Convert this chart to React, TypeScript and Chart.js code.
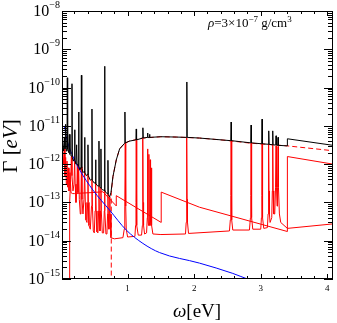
import React, { useEffect, useRef } from 'react';
import { Chart, registerables } from 'chart.js';

Chart.register(...registerables);

const X_MIN = 0.015;
const X_MAX = 4.085;
const Y_MIN = 1e-15;
const Y_MAX = 1e-8;

const xTickLabels = ['1', '2', '3', '4'];
const xTickValues = [1, 2, 3, 4];
const yTickExponents = [-15, -14, -13, -12, -11, -10, -9, -8];

const xTitleParts = ['ω', '[eV]'];
const yTitleParts = ['Γ [', 'eV', ']'];
const annotation = ['ρ', '=3×10', '−7', ' g/cm', '3'];

// total rate (black)
const blackPts: [number, number][] = [
  [0.02, 4.5e-12], [0.04, 2.2e-12], [0.05, 5e-12], [0.06, 2.5e-12], [0.07, 1.1e-11], [0.08, 2.2e-12],
  [0.09, 2.5e-12], [0.095, 1.8e-10], [0.1, 2.5e-12], [0.115, 2e-12], [0.125, 6e-12], [0.135, 1.8e-12],
  [0.16, 1.6e-12], [0.165, 1.26e-10], [0.17, 1.5e-12], [0.185, 1.2e-12], [0.2, 1.4e-12], [0.205, 7.9e-12],
  [0.21, 1.3e-12], [0.225, 1e-12], [0.235, 3.2e-12], [0.242, 1e-12], [0.26, 9e-13], [0.265, 2.3e-11],
  [0.27, 9e-13], [0.285, 7e-13], [0.3, 8.5e-13], [0.306, 2.1e-10], [0.312, 8e-13], [0.33, 6e-13],
  [0.35, 6.5e-13], [0.355, 5e-12], [0.36, 6e-13], [0.38, 5e-13], [0.4, 5.5e-13], [0.405, 3.2e-12],
  [0.41, 5e-13], [0.44, 3.8e-13], [0.46, 4e-13], [0.465, 2.75e-11], [0.47, 3.8e-13], [0.5, 3.2e-13],
  [0.515, 3.3e-13], [0.52, 1.3e-12], [0.525, 3.1e-13], [0.55, 2.7e-13], [0.565, 2.7e-13], [0.57, 4e-12],
  [0.575, 2.6e-13], [0.595, 2.4e-13], [0.6, 2.5e-12], [0.605, 2.3e-13], [0.63, 2.1e-13], [0.65, 2.1e-13],
  [0.655, 3.6e-10], [0.66, 2e-13], [0.69, 1.7e-13], [0.7, 1.7e-13], [0.705, 1.26e-12], [0.71, 1.6e-13],
  [0.73, 1.4e-13], [0.75, 1.8e-13], [0.78, 4.7e-13], [0.83, 1.29e-12], [0.88, 2.5e-12], [0.955, 3.5e-12],
  [0.96, 2.3e-11], [0.965, 3.6e-12], [1.03, 4e-12], [1.125, 4.3e-12], [1.13, 8.3e-12], [1.135, 4.3e-12],
  [1.225, 4.8e-12], [1.23, 8.9e-12], [1.235, 4.8e-12], [1.295, 5e-12], [1.3, 6.5e-12], [1.305, 5e-12],
  [1.325, 5e-12], [1.33, 6e-12], [1.335, 5e-12], [1.5, 5.2e-12], [1.73, 5.1e-12], [1.885, 5e-12],
  [1.89, 1.4e-10], [1.895, 5e-12], [2.08, 4.8e-12], [2.55, 4.1e-12], [2.555, 1.26e-11], [2.56, 4.1e-12],
  [2.85, 3.6e-12], [2.855, 1.05e-11], [2.86, 3.6e-12], [3.015, 3.4e-12], [3.02, 1.5e-11], [3.025, 3.4e-12],
  [3.115, 3.3e-12], [3.12, 7.4e-12], [3.125, 3.3e-12], [3.175, 3.2e-12], [3.18, 7.4e-12], [3.185, 3.2e-12],
  [3.225, 3.15e-12], [3.23, 5.5e-12], [3.235, 3.15e-12], [3.255, 3.1e-12], [3.26, 5e-12], [3.265, 3.1e-12],
  [3.395, 3e-12], [3.4, 4.6e-12], [4.085, 3.1e-12],
];

// resonant contribution (red, solid, with peaks)
const redPeakPts: [number, number][] = [
  [0.13, 1e-17], [0.13, 1e-13], [0.145, 4e-13], [0.156, 1.6e-12], [0.165, 5e-13], [0.18, 2e-13],
  [0.195, 3e-13], [0.205, 1.3e-12], [0.213, 3e-13], [0.225, 1e-13], [0.238, 2e-13], [0.245, 1e-12],
  [0.255, 1.8e-13], [0.265, 9e-13], [0.275, 1.2e-13], [0.29, 5e-14], [0.3, 1.5e-13], [0.306, 8.5e-13],
  [0.315, 1.2e-13], [0.33, 5e-14], [0.345, 1.2e-13], [0.355, 6.5e-13], [0.365, 1e-13], [0.375, 3.5e-14],
  [0.39, 3e-14], [0.4, 1e-13], [0.405, 5.5e-13], [0.41, 1e-13], [0.42, 2.5e-14], [0.44, 2e-14],
  [0.458, 8e-14], [0.465, 4e-13], [0.472, 8e-14], [0.485, 1.8e-14], [0.5, 1.6e-14], [0.512, 6e-14],
  [0.52, 3.3e-13], [0.528, 6e-14], [0.54, 1.7e-14], [0.555, 1.6e-14], [0.565, 6e-14], [0.57, 2.7e-13],
  [0.575, 6e-14], [0.585, 1.8e-14], [0.595, 6e-14], [0.6, 2.4e-13], [0.605, 6e-14], [0.62, 1.6e-14],
  [0.64, 1.6e-14], [0.65, 6e-14], [0.655, 2.1e-13], [0.66, 6e-14], [0.675, 1.5e-14], [0.69, 1.5e-14],
  [0.7, 5e-14], [0.705, 1.7e-13], [0.71, 5e-14], [0.72, 2e-14], [0.728, 6e-14], [0.733, 1.4e-13],
  [0.738, 5e-14], [0.75, 1.2e-14], [0.8, 1.12e-14], [0.93, 1.2e-14], [0.95, 2e-14], [0.958, 8e-14],
  [0.965, 3.6e-12], [0.972, 8e-14], [0.98, 2e-14], [1.0, 1.25e-14], [1.11, 1.3e-14], [1.12, 2.5e-14],
  [1.126, 1e-13], [1.13, 4.2e-12], [1.134, 1e-13], [1.14, 2.5e-14], [1.16, 1.4e-14], [1.21, 1.4e-14],
  [1.222, 2.5e-14], [1.226, 1e-13], [1.23, 4.7e-12], [1.234, 1e-13], [1.24, 2.5e-14], [1.255, 1.5e-14],
  [1.285, 1.6e-14], [1.296, 4e-14], [1.3, 2.5e-12], [1.305, 4e-14], [1.315, 2.5e-14], [1.32, 1.8e-12],
  [1.325, 3e-14], [1.335, 2.5e-14], [1.34, 1.3e-12], [1.345, 3e-14], [1.352, 2.5e-14], [1.358, 8e-13],
  [1.364, 2.5e-14], [1.38, 1.5e-14], [1.5, 1.45e-14], [1.87, 1.5e-14], [1.88, 3e-14], [1.886, 1.2e-13],
  [1.89, 5e-12], [1.894, 1.2e-13], [1.9, 3e-14], [1.915, 1.55e-14], [2.53, 1.8e-14], [2.543, 3.5e-14],
  [2.55, 1.5e-13], [2.555, 4.1e-12], [2.56, 1.5e-13], [2.567, 3.5e-14], [2.58, 1.9e-14], [2.83, 1.9e-14],
  [2.845, 4e-14], [2.85, 1.5e-13], [2.855, 3.6e-12], [2.86, 1.5e-13], [2.865, 4e-14], [2.88, 2e-14],
  [3.0, 2e-14], [3.01, 4e-14], [3.016, 1.5e-13], [3.02, 3.4e-12], [3.024, 1.5e-13], [3.03, 4e-14],
  [3.045, 2.1e-14], [3.1, 2.2e-14], [3.11, 5e-14], [3.116, 2e-13], [3.12, 3.3e-12], [3.124, 2e-13],
  [3.13, 5e-14], [3.14, 3e-14], [3.165, 4e-14], [3.174, 2e-13], [3.18, 3.2e-12], [3.186, 2e-13],
  [3.195, 5e-14], [3.21, 5e-14], [3.222, 2.5e-13], [3.23, 3e-12], [3.236, 2.5e-13], [3.245, 8e-14],
  [3.252, 2.5e-13], [3.26, 2.9e-12], [3.266, 2.5e-13], [3.28, 5e-14], [3.3, 3e-14], [3.4, 2.1e-14],
  [4.085, 2.75e-14],
];

// edge contribution (red, solid, saw-tooth)
const redEdgePts: [number, number][] = [
  [0.02, 3e-12], [0.04, 1e-12], [0.05, 2.5e-12], [0.06, 5e-13], [0.07, 1.5e-12], [0.08, 3e-13],
  [0.09, 1.2e-12], [0.1, 2.5e-13], [0.11, 8e-13], [0.12, 2e-13], [0.135, 6e-13], [0.15, 1.8e-13],
  [0.175, 1.7e-13], [0.2, 1.7e-13], [0.3, 1.75e-13], [0.45, 1.8e-13], [0.63, 1.9e-13], [0.7, 1.4e-13],
  [0.83, 8.1e-14], [0.83, 1.5e-13], [1.505, 3e-14], [1.505, 1.86e-13], [2.08, 7.5e-14], [3.4, 1.74e-14],
  [3.4, 1.58e-12], [4.085, 1e-12],
];

// continuum (red, dashed)
const redDashPts: [number, number][] = [
  [0.755, 1e-17], [0.755, 1.8e-13], [0.78, 4.7e-13], [0.83, 1.29e-12], [0.88, 2.5e-12], [0.955, 3.5e-12],
  [1.03, 4e-12], [1.23, 4.8e-12], [1.5, 5.2e-12], [1.73, 5.1e-12], [2.08, 4.8e-12], [2.5, 4.15e-12],
  [2.83, 3.55e-12], [3.4, 3e-12], [4.085, 2.24e-12],
];

// free-free (blue)
const bluePts: [number, number][] = [
  [0.05, 1e-11], [0.09, 4.3e-12], [0.18, 1.58e-12], [0.28, 7.1e-13], [0.48, 2.1e-13], [0.73, 6.3e-14],
  [0.98, 1.9e-14], [1.23, 8.5e-15], [1.48, 4.9e-15], [2.08, 2.6e-15], [2.58, 1.4e-15], [2.8, 1e-15],
  [3.2, 6e-16],
];

const SERIF = '"Liberation Serif", "Times New Roman", serif';

const toXY = (pts: [number, number][]) => pts.map(([x, y]) => ({ x, y }));

const decorPlugin = {
  id: 'decor',
  afterDraw(chart: any) {
    const { ctx, chartArea } = chart;
    const { left, right, top, bottom } = chartArea;
    const xs = chart.scales.x;
    const ys = chart.scales.y;
    ctx.save();
    ctx.strokeStyle = '#000';
    ctx.fillStyle = '#000';
    ctx.lineWidth = 1;
    // frame
    ctx.strokeRect(Math.round(left) + 0.5, Math.round(top) + 0.5, Math.round(right - left) - 1, Math.round(bottom - top) - 1);

    ctx.beginPath();
    for (const e of yTickExponents) {
      const py = Math.round(ys.getPixelForValue(Math.pow(10, e))) + 0.5;
      ctx.moveTo(left, py); ctx.lineTo(left + 9, py);
      ctx.moveTo(right, py); ctx.lineTo(right - 9, py);
      if (e < -8) {
        for (let m = 2; m <= 9; m++) {
          const pm = Math.round(ys.getPixelForValue(m * Math.pow(10, e))) + 0.5;
          ctx.moveTo(left, pm); ctx.lineTo(left + 5, pm);
          ctx.moveTo(right, pm); ctx.lineTo(right - 5, pm);
        }
      }
    }
    for (let i = 1; i <= 20; i++) {
      const v = i * 0.2;
      if (v > X_MAX) break;
      const major = i % 5 === 0;
      const len = major ? 5 : 3;
      const px = Math.round(xs.getPixelForValue(v)) + 0.5;
      ctx.moveTo(px, bottom); ctx.lineTo(px, bottom - len);
      ctx.moveTo(px, top); ctx.lineTo(px, top + len);
    }
    ctx.stroke();

    // y tick labels
    for (const e of yTickExponents) {
      const py = ys.getPixelForValue(Math.pow(10, e));
      const exp = '−' + String(-e);
      ctx.font = `10px ${SERIF}`;
      const we = ctx.measureText(exp).width;
      ctx.font = `16px ${SERIF}`;
      const wb = ctx.measureText('10').width;
      const xr = left - 2;
      ctx.textBaseline = 'alphabetic';
      ctx.textAlign = 'left';
      ctx.fillText('10', xr - we - wb, py + 5);
      ctx.font = `10px ${SERIF}`;
      ctx.fillText(exp, xr - we, py - 3);
    }
    // x tick labels
    ctx.font = `9px ${SERIF}`;
    ctx.textAlign = 'center';
    ctx.textBaseline = 'middle';
    xTickValues.forEach((v, i) => {
      ctx.fillText(xTickLabels[i], xs.getPixelForValue(v), bottom + 10);
    });

    // x title (ω italic)
    ctx.textAlign = 'left';
    ctx.textBaseline = 'middle';
    const fXI = `italic 19px ${SERIF}`;
    const fXN = `19px ${SERIF}`;
    ctx.font = fXI; const wx0 = ctx.measureText(xTitleParts[0]).width;
    ctx.font = fXN; const wx1 = ctx.measureText(xTitleParts[1]).width;
    let tx = 197 - (wx0 + wx1) / 2;
    ctx.font = fXI; ctx.fillText(xTitleParts[0], tx, 312); tx += wx0;
    ctx.font = fXN; ctx.fillText(xTitleParts[1], tx, 312);

    // y title
    ctx.save();
    ctx.translate(11, 146);
    ctx.rotate(-Math.PI / 2);
    const fN = `21px ${SERIF}`;
    const fI = `italic 21px ${SERIF}`;
    ctx.font = fN; const w0 = ctx.measureText(yTitleParts[0]).width;
    ctx.font = fI; const w1 = ctx.measureText(yTitleParts[1]).width;
    ctx.font = fN; const w2 = ctx.measureText(yTitleParts[2]).width;
    let cx = -(w0 + w1 + w2) / 2;
    ctx.textAlign = 'left';
    ctx.textBaseline = 'middle';
    ctx.font = fN; ctx.fillText(yTitleParts[0], cx, 0); cx += w0;
    ctx.font = fI; ctx.fillText(yTitleParts[1], cx, 0); cx += w1;
    ctx.font = fN; ctx.fillText(yTitleParts[2], cx, 0);
    ctx.restore();

    // annotation
    ctx.textAlign = 'left';
    ctx.textBaseline = 'alphabetic';
    let ax = 208;
    const ay = 27;
    const segs: [string, string, number][] = [
      [annotation[0], `italic 13px ${SERIF}`, 0],
      [annotation[1], `13px ${SERIF}`, 0],
      [annotation[2], `9px ${SERIF}`, -5],
      [annotation[3], `13px ${SERIF}`, 0],
      [annotation[4], `9px ${SERIF}`, -5],
    ];
    for (const [t, f, dy] of segs) {
      ctx.font = f;
      ctx.fillText(t, ax, ay + dy);
      ax += ctx.measureText(t).width;
    }
    ctx.restore();
  },
};

export default function App() {
  const ref = useRef<HTMLCanvasElement | null>(null);
  useEffect(() => {
    if (!ref.current) return;
    const common = { pointRadius: 0, borderWidth: 1, fill: false, tension: 0 };
    const chart = new Chart(ref.current, {
      type: 'line',
      data: {
        datasets: [
          { ...common, label: 'total', data: toXY(blackPts), borderColor: '#000000', order: 0 },
          { ...common, label: 'ff', data: toXY(bluePts), borderColor: '#0000ff', order: 1, cubicInterpolationMode: 'monotone' },
          { ...common, label: 'bb', data: toXY(redPeakPts), borderColor: '#ff0000', order: 2 },
          { ...common, label: 'edge', data: toXY(redEdgePts), borderColor: '#ff0000', order: 3 },
          { ...common, label: 'bf', data: toXY(redDashPts), borderColor: '#ff0000', borderDash: [5, 3], order: 4 },
        ] as any,
      },
      options: {
        animation: false,
        responsive: false,
        devicePixelRatio: 1,
        layout: { padding: { left: 0, right: 4, top: 11, bottom: 0 } },
        plugins: { legend: { display: false }, tooltip: { enabled: false } },
        scales: {
          x: {
            type: 'linear', min: X_MIN, max: X_MAX,
            ticks: { display: false }, grid: { display: false }, border: { display: false },
            afterFit: (s: any) => { s.height = 44; },
          },
          y: {
            type: 'logarithmic', min: Y_MIN, max: Y_MAX,
            ticks: { display: false }, grid: { display: false }, border: { display: false },
            afterFit: (s: any) => { s.width = 62; },
          },
        },
      } as any,
      plugins: [decorPlugin],
    });
    return () => chart.destroy();
  }, []);
  return (
    <div style={{ position: 'absolute', left: 0, top: 0, width: 337, height: 323, background: '#fff' }}>
      <canvas ref={ref} width={337} height={323} style={{ width: 337, height: 323 }} />
    </div>
  );
}
